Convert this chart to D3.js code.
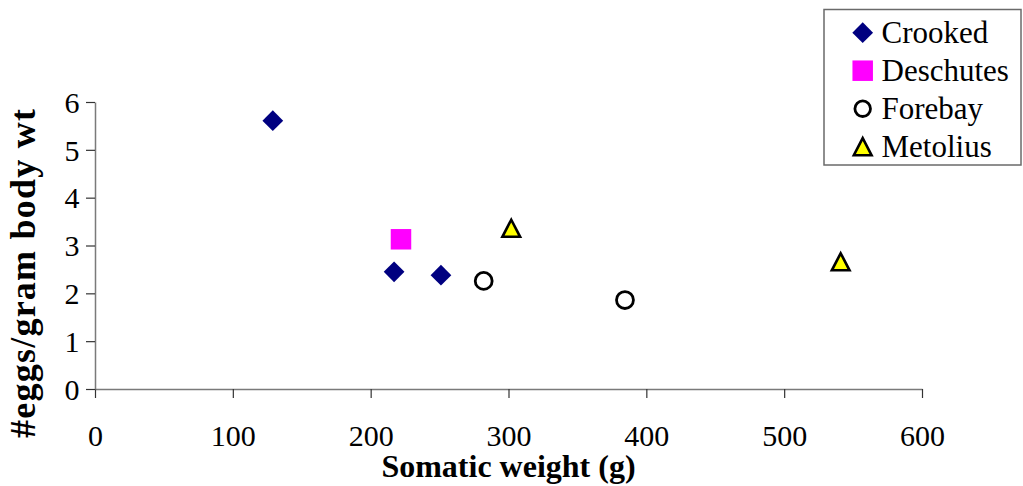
<!DOCTYPE html>
<html>
<head>
<meta charset="utf-8">
<script src="https://cdn.jsdelivr.net/npm/d3@7"></script>
<style>
  body { margin: 0; background: #fff; }
  svg { display: block; }
  text { font-family: "Liberation Serif", "Times New Roman", serif; fill: #000; }
</style>
</head>
<body>
<svg id="chart" width="1023" height="486"></svg>
<script>
// ---- data ----
const seriesNames = ["Crooked", "Deschutes", "Forebay", "Metolius"];
const crooked   = [[129, 5.61], [217, 2.45], [251, 2.38]];
const deschutes = [[222, 3.13]];
const forebay   = [[282, 2.26], [384.5, 1.86]];
const metolius  = [[302, 3.36], [541, 2.66]];
const xTicks = [0, 100, 200, 300, 400, 500, 600];
const yTicks = [0, 1, 2, 3, 4, 5, 6];
const xTitle = "Somatic weight (g)";
const yTitle = "#eggs/gram body wt";

const SERIF = "'Liberation Serif', 'Times New Roman', serif";

// ---- layout ----
const svg = d3.select("#chart");
const x = d3.scaleLinear().domain([0, 600]).range([95, 922]);
const y = d3.scaleLinear().domain([0, 6]).range([389, 102]);

// custom triangle (Excel style, centered in box)
const excelTriangle = {
  draw(ctx, size) {
    const h = Math.sqrt(size);
    ctx.moveTo(0, -h * 0.5);
    ctx.lineTo(h * 0.52, h * 0.5);
    ctx.lineTo(-h * 0.52, h * 0.5);
    ctx.closePath();
  }
};

const styles = {
  Crooked:   { type: d3.symbolSquare, size: 215, rotate: 45, fill: "#000080", stroke: "none", sw: 0 },
  Deschutes: { type: d3.symbolSquare, size: 420, rotate: 0, fill: "#FF00FF", stroke: "none", sw: 0 },
  Forebay:   { type: d3.symbolCircle, size: 225, rotate: 0, fill: "#FFFFFF", stroke: "#000", sw: 2.8 },
  Metolius:  { type: excelTriangle, size: 290, rotate: 0, fill: "#FFFF00", stroke: "#000", sw: 2.6 }
};
const seriesData = { Crooked: crooked, Deschutes: deschutes, Forebay: forebay, Metolius: metolius };

// axes
const xAxis = svg.append("g")
  .attr("transform", `translate(0,${y(0)})`)
  .call(d3.axisBottom(x).tickValues(xTicks).tickFormat(d3.format("d")).tickSize(9).tickSizeOuter(0));
xAxis.select(".domain").attr("stroke", "#7a7a7a").attr("stroke-width", 1.5);
xAxis.selectAll(".tick line").attr("stroke", "#333").attr("stroke-width", 1.2);
xAxis.selectAll(".tick text")
  .attr("y", 57).attr("dy", null);

const yAxis = svg.append("g")
  .attr("transform", `translate(${x(0)},0)`)
  .call(d3.axisLeft(y).tickValues(yTicks).tickFormat(d3.format("d")).tickSize(9).tickSizeOuter(0));
yAxis.select(".domain").attr("stroke", "#7a7a7a").attr("stroke-width", 1.5);
yAxis.selectAll(".tick line").attr("stroke", "#333").attr("stroke-width", 1.2);
yAxis.selectAll(".tick text")
  .attr("x", -15.5).attr("dy", "0.34em");

[xAxis, yAxis].forEach(a => a.attr("font-family", SERIF).attr("font-size", 30));
svg.selectAll(".tick text")
  .attr("fill", "#000")
  .style("font-family", SERIF)
  .style("font-size", "30px");

// points
seriesNames.forEach(name => {
  const st = styles[name];
  const sym = d3.symbol().type(st.type).size(st.size);
  svg.append("g").selectAll("path")
    .data(seriesData[name])
    .join("path")
    .attr("d", sym)
    .attr("transform", d => `translate(${x(d[0])},${y(d[1])}) rotate(${st.rotate})`)
    .attr("fill", st.fill)
    .attr("stroke", st.stroke)
    .attr("stroke-width", st.sw)
    .attr("stroke-linejoin", "miter");
});

// axis titles
svg.append("text")
  .attr("x", 508.5).attr("y", 476.5)
  .attr("text-anchor", "middle")
  .style("font-family", SERIF)
  .style("font-size", "32px").style("font-weight", "bold")
  .text(xTitle);

svg.append("text")
  .attr("transform", "translate(34.5,273.5) rotate(-90)")
  .attr("text-anchor", "middle")
  .attr("textLength", 329).attr("lengthAdjust", "spacing")
  .style("font-family", SERIF)
  .style("font-size", "36px").style("font-weight", "bold")
  .text(yTitle);

// legend
const legend = svg.append("g");
legend.append("rect")
  .attr("x", 824).attr("y", 9.5).attr("width", 197).attr("height", 155.5)
  .attr("fill", "#fff").attr("stroke", "#6a6a6a").attr("stroke-width", 1.5);
const legendY = d3.scalePoint().domain(seriesNames).range([32.7, 146.7]);
seriesNames.forEach(name => {
  const st = styles[name];
  const sym = d3.symbol().type(st.type).size(name === "Forebay" ? 190 : st.size);
  const cy = legendY(name);
  legend.append("path")
    .attr("d", sym)
    .attr("transform", `translate(862.7,${cy}) rotate(${st.rotate})`)
    .attr("fill", st.fill)
    .attr("stroke", st.stroke)
    .attr("stroke-width", st.sw);
  legend.append("text")
    .attr("x", 881.5).attr("y", cy + 10.5)
    .style("font-family", SERIF)
    .style("font-size", "31px")
    .text(name);
});
</script>
</body>
</html>
